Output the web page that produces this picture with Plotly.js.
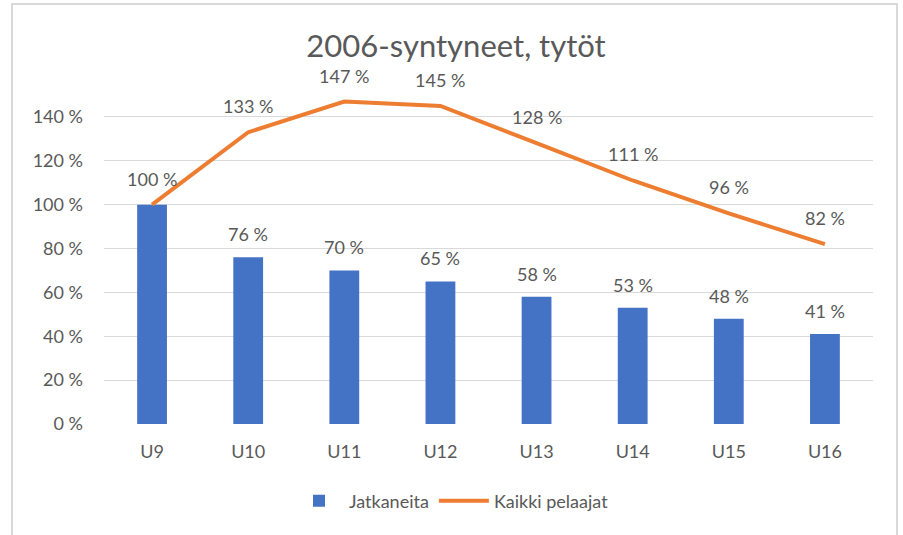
<!DOCTYPE html>
<html>
<head>
<meta charset="utf-8">
<script src="https://cdn.plot.ly/plotly-3.0.1.min.js"></script>
<style>
html,body{margin:0;padding:0;background:#fff;}
#wrap{position:relative;width:903px;height:535px;}
#chart{width:903px;height:535px;}
#frame{position:absolute;left:11px;top:3px;width:887px;height:545px;border:2px solid #d9d9d9;pointer-events:none;box-sizing:border-box;}
</style>
</head>
<body>
<div id="wrap"><div id="chart"></div><div id="frame"></div></div>
<script>
const categories = ["U9","U10","U11","U12","U13","U14","U15","U16"];
const jatkaneita = [1.00,0.76,0.70,0.65,0.58,0.53,0.48,0.41];
const kaikkiPelaajat = [1.00,1.33,1.47,1.45,1.28,1.11,0.96,0.82];
const yTickVals = [0,0.2,0.4,0.6,0.8,1.0,1.2,1.4];
const yTickText = ["0 %","20 %","40 %","60 %","80 %","100 %","120 %","140 %"];
const titleText = "2006-syntyneet, tytöt";

const fmt = v => Math.round(v*100) + " %";
const FONT = "Lato, 'Open Sans', sans-serif";
const GREY = "#595959";
const FS = 18;

const traces = [
  {type:"bar", name:"Jatkaneita", x:categories, y:jatkaneita,
   marker:{color:"#4472C4"}, hoverinfo:"skip"},
  {type:"scatter", mode:"lines", name:"Kaikki pelaajat", x:categories, y:kaikkiPelaajat,
   line:{color:"#ED7D31", width:4}, hoverinfo:"skip"}
];

const annotations = [];
categories.forEach((c,i)=>{
  // where both labels fall on the same spot (same value), the reference shows a single label
  if (jatkaneita[i] !== kaikkiPelaajat[i]) {
    annotations.push({x:c, y:jatkaneita[i], xref:"x", yref:"y", text:fmt(jatkaneita[i]),
      showarrow:false, yanchor:"middle", yshift:23, font:{family:FONT,size:FS,color:GREY}});
  }
  annotations.push({x:c, y:kaikkiPelaajat[i], xref:"x", yref:"y", text:fmt(kaikkiPelaajat[i]),
    showarrow:false, yanchor:"middle", yshift:26, font:{family:FONT,size:FS,color:GREY}});
});

const layout = {
  width:903, height:535,
  margin:{l:104, r:30, t:73, b:111},
  paper_bgcolor:"#fff", plot_bgcolor:"#fff",
  font:{family:FONT, color:GREY, size:FS},
  title:{text:titleText, font:{family:FONT, size:31, color:GREY},
         x:0.505, xref:"container", xanchor:"center", y:0.914, yref:"container", yanchor:"middle"},
  bargap:0.69,
  xaxis:{type:"category", showgrid:false, zeroline:false, showline:false, ticks:"",
         tickfont:{family:FONT,size:FS,color:GREY}, ticklabelstandoff:15, fixedrange:true},
  yaxis:{range:[0,1.6], tickvals:yTickVals, ticktext:yTickText, showgrid:true,
         gridcolor:"#d9d9d9", gridwidth:1, zeroline:false, showline:false, ticks:"",
         tickfont:{family:FONT,size:FS,color:GREY}, ticklabelstandoff:20, fixedrange:true},
  showlegend:true,
  legend:{orientation:"h", x:0.5, xref:"container", xanchor:"center",
          y:1-501/535, yref:"container", yanchor:"middle",
          font:{family:FONT,size:FS,color:GREY}, itemwidth:50, traceorder:"normal"},
  annotations:annotations
};

Plotly.newPlot("chart", traces, layout, {displayModeBar:false, staticPlot:true});
</script>
</body>
</html>
